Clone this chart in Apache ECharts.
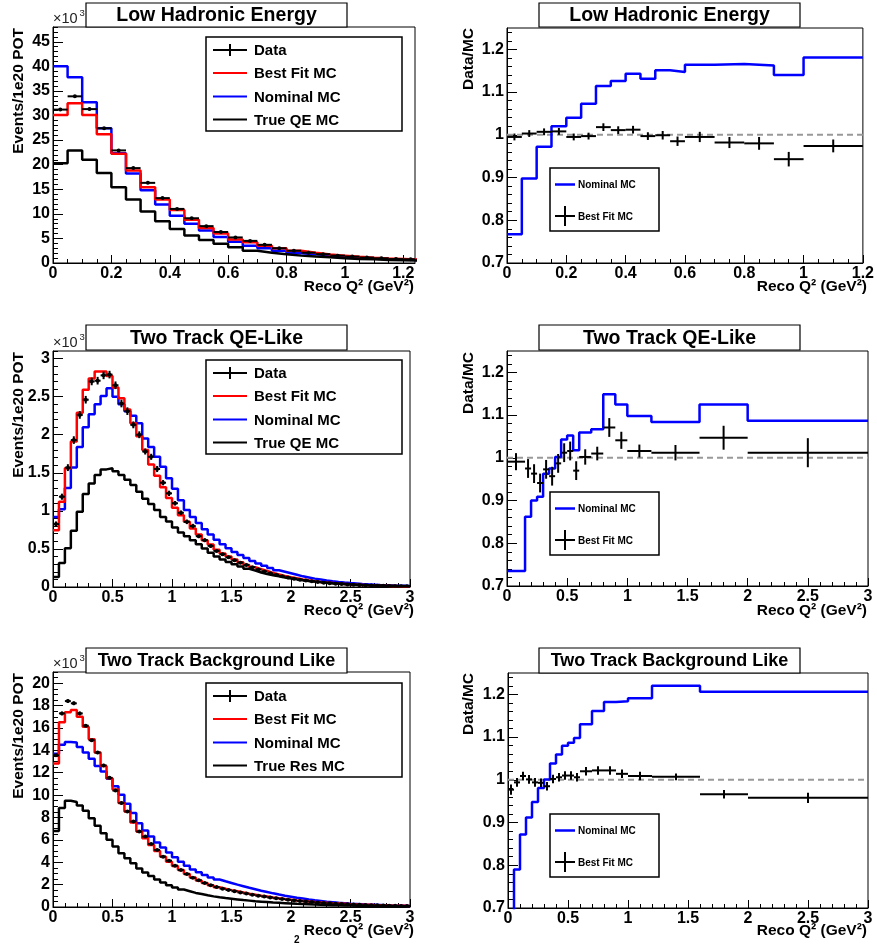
<!DOCTYPE html>
<html>
<head>
<meta charset="utf-8">
<script src="https://cdn.jsdelivr.net/npm/echarts@6/dist/echarts.min.js"></script>
<style>
  html, body { margin: 0; padding: 0; background: #fff; }
  #chart { width: 877px; height: 947px; }
</style>
</head>
<body>
<div id="chart"></div>
<script>
// ---------------- Low Hadronic Energy (x10^3 events / 1e20 POT) ----------------
const lowHadBinWidth = 0.05;
const lowHadData     = [31.2, 33.9, 31.3, 27.4, 22.9, 19.3, 16.3, 13.2, 11.0, 9.1, 7.5, 6.3, 5.2, 4.5, 3.7, 3.0, 2.5, 2.1, 1.8, 1.5, 1.3, 1.1, 0.95, 0.8, 0.75];
const lowHadDataErr  = [0.25, 0.26, 0.25, 0.23, 0.21, 0.19, 0.18, 0.16, 0.15, 0.13, 0.12, 0.11, 0.1, 0.09, 0.08, 0.07, 0.07, 0.06, 0.06, 0.05, 0.05, 0.05, 0.04, 0.04, 0.04];
const lowHadBestFit  = [30.1, 32.5, 30.1, 26.2, 22.2, 18.8, 15.4, 12.9, 10.8, 8.8, 7.1, 6.0, 4.8, 4.2, 3.5, 3.0, 2.5, 2.1, 1.75, 1.5, 1.25, 1.05, 0.9, 0.8, 0.7];
const lowHadNominal  = [40.0, 37.8, 32.7, 27.4, 22.3, 18.2, 14.8, 11.9, 9.6, 8.0, 6.6, 5.3, 4.3, 3.5, 3.0, 2.5, 2.0, 1.8, 1.5, 1.3, 1.1, 0.95, 0.8, 0.7, 0.6];
const lowHadTrueQE   = [20.3, 22.9, 21.0, 18.3, 15.4, 12.9, 10.5, 8.5, 6.9, 5.6, 4.7, 3.9, 3.2, 2.5, 2.1, 1.8, 1.5, 1.3, 1.15, 0.95, 0.8, 0.75, 0.6, 0.55, 0.5];

const lowHadRatioEdges   = [0, 0.05, 0.1, 0.15, 0.2, 0.25, 0.3, 0.35, 0.4, 0.45, 0.5, 0.55, 0.6, 0.7, 0.8, 0.9, 1.0, 1.2];
const lowHadRatioNominal = [0.767, 0.898, 0.972, 1.020, 1.040, 1.073, 1.114, 1.126, 1.143, 1.131, 1.151, 1.147, 1.164, 1.166, 1.162, 1.140, 1.181];
const lowHadRatioBestFit = [0.995, 1.003, 1.007, 1.008, 0.995, 0.997, 1.018, 1.011, 1.012, 0.997, 0.999, 0.985, 0.995, 0.982, 0.980, 0.943, 0.974];
const lowHadRatioErr     = [0.008, 0.008, 0.008, 0.008, 0.008, 0.008, 0.009, 0.009, 0.009, 0.009, 0.01, 0.011, 0.012, 0.013, 0.015, 0.017, 0.015];

// ---------------- Two Track QE-Like (x10^3 events / 1e20 POT) ----------------
const qeLikeBinWidth = 0.05;
const qeLikeData    = [0.826, 1.186, 1.568, 1.93, 2.26, 2.46, 2.70, 2.71, 2.78, 2.79, 2.65, 2.41, 2.31, 2.13, 2.00, 1.78, 1.71, 1.55, 1.37, 1.23,
                       1.10, 0.975, 0.856, 0.80, 0.667, 0.615, 0.54, 0.474, 0.43, 0.39, 0.35, 0.32, 0.29, 0.26, 0.23, 0.205, 0.18, 0.16, 0.14, 0.125,
                       0.11, 0.095, 0.085, 0.075, 0.065, 0.057, 0.05, 0.044, 0.038, 0.033, 0.029, 0.025, 0.022, 0.019, 0.017, 0.015, 0.013, 0.011, 0.010, 0.009];
const qeLikeDataErr = [0.035, 0.04, 0.045, 0.05, 0.05, 0.05, 0.05, 0.05, 0.05, 0.05, 0.05, 0.05, 0.05, 0.045, 0.045, 0.04, 0.04, 0.04, 0.035, 0.035,
                       0.03, 0.03, 0.03, 0.03, 0.025, 0.025, 0.025, 0.02, 0.02, 0.02, 0.02, 0.02, 0.015, 0.015, 0.015, 0.015, 0.012, 0.012, 0.012, 0.01,
                       0.01, 0.01, 0.01, 0.008, 0.008, 0.008, 0.007, 0.007, 0.006, 0.006, 0.006, 0.005, 0.005, 0.005, 0.004, 0.004, 0.004, 0.004, 0.003, 0.003];
const qeLikeBestFit = [0.747, 1.12, 1.56, 1.91, 2.29, 2.59, 2.74, 2.83, 2.83, 2.77, 2.62, 2.48, 2.33, 2.15, 1.98, 1.80, 1.61, 1.46, 1.31, 1.17,
                       1.04, 0.944, 0.856, 0.768, 0.69, 0.615, 0.558, 0.49, 0.44, 0.40, 0.36, 0.325, 0.29, 0.26, 0.235, 0.21, 0.185, 0.165, 0.145, 0.13,
                       0.115, 0.10, 0.088, 0.077, 0.067, 0.059, 0.052, 0.045, 0.04, 0.035, 0.031, 0.027, 0.023, 0.02, 0.018, 0.016, 0.014, 0.012, 0.011, 0.01];
const qeLikeNominal = [0.92, 1.02, 1.30, 1.57, 1.84, 2.10, 2.27, 2.40, 2.51, 2.61, 2.50, 2.40, 2.31, 2.25, 2.15, 1.95, 1.84, 1.71, 1.58, 1.43,
                       1.29, 1.14, 1.01, 0.92, 0.84, 0.76, 0.69, 0.62, 0.56, 0.51, 0.46, 0.42, 0.38, 0.34, 0.31, 0.28, 0.25, 0.22, 0.20, 0.18,
                       0.16, 0.14, 0.125, 0.11, 0.098, 0.086, 0.076, 0.067, 0.059, 0.052, 0.046, 0.04, 0.035, 0.031, 0.027, 0.024, 0.021, 0.018, 0.016, 0.014];
const qeLikeTrueQE  = [0.13, 0.316, 0.51, 0.74, 0.99, 1.22, 1.36, 1.47, 1.545, 1.56, 1.52, 1.47, 1.41, 1.34, 1.25, 1.16, 1.09, 1.01, 0.92, 0.86,
                       0.78, 0.716, 0.667, 0.615, 0.56, 0.505, 0.45, 0.40, 0.36, 0.33, 0.30, 0.27, 0.24, 0.215, 0.19, 0.17, 0.155, 0.14, 0.125, 0.112,
                       0.10, 0.09, 0.08, 0.072, 0.064, 0.057, 0.05, 0.045, 0.04, 0.035, 0.031, 0.027, 0.024, 0.021, 0.019, 0.017, 0.015, 0.013, 0.012, 0.011];

const qeLikeRatioEdges   = [0, 0.15, 0.2, 0.25, 0.3, 0.35, 0.4, 0.45, 0.5, 0.55, 0.6, 0.7, 0.8, 0.9, 1.0, 1.2, 1.6, 2.0, 3.0];
const qeLikeRatioNominal = [0.735, 0.862, 0.900, 0.909, 0.963, 0.975, 1.002, 1.043, 1.052, 1.018, 1.059, 1.067, 1.149, 1.125, 1.098, 1.084, 1.125, 1.087];
const qeLikeRatioBestFit = [0.991, 0.975, 0.963, 0.941, 0.973, 0.957, 0.987, 1.012, 1.016, 0.970, 1.002, 1.010, 1.071, 1.041, 1.016, 1.012, 1.047, 1.012];
const qeLikeRatioErr     = [0.02, 0.022, 0.022, 0.022, 0.022, 0.022, 0.022, 0.022, 0.022, 0.022, 0.018, 0.016, 0.022, 0.02, 0.015, 0.018, 0.028, 0.034];

// ---------------- Two Track Background Like (x10^3 events / 1e20 POT) ----------------
const bkgLikeBinWidth = 0.05;
const bkgLikeData    = [13.55, 17.3, 18.4, 18.2, 17.3, 16.2, 14.9, 13.8, 12.65, 11.54, 10.4, 9.29, 8.54, 7.64, 6.74, 6.29, 5.64, 5.10, 4.50, 4.14,
                        3.69, 3.30, 2.94, 2.61, 2.38, 2.14, 1.95, 1.78, 1.64, 1.52, 1.41, 1.30, 1.20, 1.10, 1.01, 0.93, 0.85, 0.78, 0.71, 0.65,
                        0.59, 0.54, 0.49, 0.44, 0.40, 0.36, 0.33, 0.30, 0.27, 0.245, 0.22, 0.20, 0.18, 0.165, 0.15, 0.135, 0.12, 0.11, 0.10, 0.09];
const bkgLikeDataErr = [0.14, 0.16, 0.16, 0.16, 0.16, 0.15, 0.15, 0.14, 0.14, 0.13, 0.12, 0.12, 0.11, 0.11, 0.1, 0.1, 0.09, 0.09, 0.08, 0.08,
                        0.07, 0.07, 0.07, 0.06, 0.06, 0.06, 0.05, 0.05, 0.05, 0.05, 0.04, 0.04, 0.04, 0.04, 0.04, 0.03, 0.03, 0.03, 0.03, 0.03,
                        0.03, 0.03, 0.02, 0.02, 0.02, 0.02, 0.02, 0.02, 0.02, 0.02, 0.02, 0.02, 0.02, 0.02, 0.02, 0.01, 0.01, 0.01, 0.01, 0.01];
const bkgLikeBestFit = [12.83, 16.5, 17.4, 17.6, 17.0, 16.1, 15.0, 13.8, 12.6, 11.5, 10.5, 9.29, 8.54, 7.55, 6.74, 6.14, 5.55, 5.0, 4.5, 4.05,
                        3.66, 3.30, 2.94, 2.64, 2.36, 2.14, 1.94, 1.76, 1.63, 1.51, 1.40, 1.29, 1.19, 1.10, 1.01, 0.93, 0.85, 0.78, 0.71, 0.65,
                        0.59, 0.54, 0.49, 0.45, 0.41, 0.37, 0.34, 0.31, 0.28, 0.25, 0.23, 0.21, 0.19, 0.17, 0.155, 0.14, 0.125, 0.115, 0.105, 0.095];
const bkgLikeNominal = [13.7, 14.5, 14.75, 14.7, 14.3, 13.8, 13.25, 12.6, 12.1, 11.45, 10.8, 10.04, 9.23, 8.39, 7.49, 6.83, 6.29, 5.76, 5.31, 4.86,
                        4.44, 4.05, 3.69, 3.36, 3.10, 2.86, 2.64, 2.46, 2.30, 2.15, 2.00, 1.86, 1.72, 1.59, 1.46, 1.34, 1.22, 1.11, 1.01, 0.92,
                        0.83, 0.75, 0.67, 0.60, 0.54, 0.48, 0.43, 0.38, 0.34, 0.30, 0.27, 0.24, 0.21, 0.19, 0.17, 0.15, 0.13, 0.12, 0.11, 0.10];
const bkgLikeTrueRes = [6.80, 8.84, 9.50, 9.38, 9.08, 8.60, 7.94, 7.25, 6.59, 6.00, 5.40, 4.80, 4.35, 3.90, 3.45, 3.09, 2.76, 2.46, 2.19, 1.95,
                        1.74, 1.56, 1.41, 1.26, 1.16, 1.05, 0.95, 0.87, 0.80, 0.74, 0.68, 0.62, 0.57, 0.52, 0.48, 0.44, 0.40, 0.37, 0.34, 0.31,
                        0.28, 0.26, 0.24, 0.22, 0.20, 0.18, 0.165, 0.15, 0.14, 0.13, 0.12, 0.11, 0.10, 0.09, 0.085, 0.08, 0.075, 0.07, 0.065, 0.06];

const bkgLikeRatioEdges   = [0, 0.05, 0.1, 0.15, 0.2, 0.25, 0.3, 0.35, 0.4, 0.45, 0.5, 0.55, 0.6, 0.7, 0.8, 0.9, 1.0, 1.2, 1.6, 2.0, 3.0];
const bkgLikeRatioNominal = [0.66, 0.79, 0.872, 0.912, 0.948, 0.981, 1.001, 1.038, 1.059, 1.080, 1.087, 1.098, 1.130, 1.161, 1.182, 1.184, 1.191, 1.220, 1.206, 1.206];
const bkgLikeRatioBestFit = [0.977, 0.994, 1.009, 1.001, 0.994, 0.993, 0.985, 1.002, 1.006, 1.010, 1.010, 1.006, 1.020, 1.022, 1.022, 1.014, 1.009, 1.007, 0.966, 0.958];
const bkgLikeRatioErr     = [0.012, 0.01, 0.01, 0.01, 0.01, 0.01, 0.01, 0.01, 0.01, 0.01, 0.01, 0.01, 0.01, 0.01, 0.01, 0.01, 0.01, 0.008, 0.01, 0.012];

// ---------------- Labels ----------------
const panelTitles = ['Low Hadronic Energy', 'Two Track QE-Like', 'Two Track Background Like'];
const panelTitleSizes = [19.5, 19.5, 18];
const legendLabels = [
  ['Data', 'Best Fit MC', 'Nominal MC', 'True QE MC'],
  ['Data', 'Best Fit MC', 'Nominal MC', 'True QE MC'],
  ['Data', 'Best Fit MC', 'Nominal MC', 'True Res MC']
];
const ratioLegendLabels = ['Nominal MC', 'Best Fit MC'];
const xTitle = 'Reco Q\u00b2 (GeV\u00b2)';
const yTitleEvents = 'Events/1e20 POT';
const yTitleRatio = 'Data/MC';

// ---------------- Helpers ----------------
const FONT = 'Liberation Sans';
const RED = '#ff0000', BLUE = '#0000ff', BLACK = '#000000';

function uniformEdges(width, n) {
  const e = [];
  for (let i = 0; i <= n; i++) e.push(+(i * width).toFixed(5));
  return e;
}
function tickList(lo, hi, step) {
  const out = [];
  const n = Math.round((hi - lo) / step);
  for (let i = 0; i <= n; i++) out.push(+(lo + i * step).toFixed(5));
  return out.filter(v => v <= hi + 1e-9);
}
// histogram outline: one point per bin start plus the last edge
function stepPoints(edges, vals) {
  const pts = vals.map((v, i) => [edges[i], v]);
  pts.push([edges[edges.length - 1], vals[vals.length - 1]]);
  return pts;
}
function errPoints(edges, vals, errs) {
  return vals.map((v, i) => [(edges[i] + edges[i + 1]) / 2, v, edges[i], edges[i + 1], errs[i]]);
}
function fmt(v) { return String(+v.toFixed(3)); }

function errorRenderer(dotR) {
  return function (params, api) {
    const xc = api.value(0), y = api.value(1), xl = api.value(2), xh = api.value(3), e = api.value(4);
    const pL = api.coord([xl, y]), pR = api.coord([xh, y]);
    const pT = api.coord([xc, y + e]), pB = api.coord([xc, y - e]);
    const pc = api.coord([xc, y]);
    const st = { stroke: BLACK, lineWidth: 2 };
    const children = [
      { type: 'line', shape: { x1: pL[0], y1: pL[1], x2: pR[0], y2: pR[1] }, style: st },
      { type: 'line', shape: { x1: pT[0], y1: pT[1], x2: pB[0], y2: pB[1] }, style: st }
    ];
    if (dotR) children.push({ type: 'circle', shape: { cx: pc[0], cy: pc[1], r: dotR }, style: { fill: BLACK } });
    return { type: 'group', children };
  };
}

// ---------------- Layout of the six frames ----------------
const grids = [
  { left: 53,  top: 27,  width: 362, height: 236 },
  { left: 507, top: 28,  width: 361, height: 235 },
  { left: 53,  top: 351, width: 357, height: 236 },
  { left: 507, top: 351, width: 361, height: 235 },
  { left: 53,  top: 672, width: 357, height: 235 },
  { left: 508, top: 673, width: 360, height: 235 }
];

// axis settings per frame: [min, max, major step, minor step]
const xSpec = [
  [0, 1.24, 0.2, 0.05], [0, 1.2, 0.2, 0.05],
  [0, 3, 0.5, 0.1], [0, 3, 0.5, 0.1],
  [0, 3, 0.5, 0.1], [0, 3, 0.5, 0.1]
];
const ySpec = [
  [0, 48, 5, 1], [0.7, 1.25, 0.1, 0.02],
  [0, 3.1, 0.5, 0.1], [0.7, 1.25, 0.1, 0.02],
  [0, 21, 2, 0.5], [0.7, 1.25, 0.1, 0.02]
];

const xAxes = [], yAxes = [];
grids.forEach((g, gi) => {
  const [xmin, xmax, xstep, xminor] = xSpec[gi];
  const [ymin, ymax, ystep, yminor] = ySpec[gi];
  const xMaj = tickList(xmin, xmax, xstep), yMaj = tickList(ymin, ymax, ystep);
  const labelStyle = { color: BLACK, fontFamily: FONT, fontWeight: 'bold', fontSize: 16, formatter: fmt };
  xAxes.push({
    type: 'value', gridIndex: gi, min: xmin, max: xmax, position: 'bottom',
    axisLine: { show: true, onZero: false, lineStyle: { color: BLACK, width: 1 } },
    axisTick: { show: true, inside: true, length: 8, customValues: xMaj, lineStyle: { color: BLACK, width: 1 } },
    axisLabel: Object.assign({ margin: 3, customValues: xMaj }, labelStyle),
    splitLine: { show: false }, minorTick: { show: false }
  });
  xAxes.push({
    type: 'value', gridIndex: gi, min: xmin, max: xmax, position: 'bottom',
    axisLine: { show: false, onZero: false }, axisLabel: { show: false }, splitLine: { show: false },
    axisTick: { show: true, inside: true, length: 4, customValues: tickList(xmin, xmax, xminor), lineStyle: { color: BLACK, width: 1 } }
  });
  yAxes.push({
    type: 'value', gridIndex: gi, min: ymin, max: ymax, position: 'left',
    axisLine: { show: true, onZero: false, lineStyle: { color: BLACK, width: 1 } },
    axisTick: { show: true, inside: true, length: 10, customValues: yMaj, lineStyle: { color: BLACK, width: 1 } },
    axisLabel: Object.assign({ margin: 3, customValues: yMaj }, labelStyle),
    splitLine: { show: false }, minorTick: { show: false }
  });
  yAxes.push({
    type: 'value', gridIndex: gi, min: ymin, max: ymax, position: 'left',
    axisLine: { show: false, onZero: false }, axisLabel: { show: false }, splitLine: { show: false },
    axisTick: { show: true, inside: true, length: 5, customValues: tickList(ymin, ymax, yminor), lineStyle: { color: BLACK, width: 1 } }
  });
});

// ---------------- Series ----------------
const series = [];
function hist(gi, edges, vals, color, z) {
  series.push({
    type: 'line', xAxisIndex: 2 * gi, yAxisIndex: 2 * gi, step: 'end', symbol: 'none', clip: true,
    data: stepPoints(edges, vals), lineStyle: { color, width: 2.5 }, z, silent: true
  });
}
function errs(gi, edges, vals, e, dotR) {
  series.push({
    type: 'custom', xAxisIndex: 2 * gi, yAxisIndex: 2 * gi, clip: true, z: 10, silent: true,
    encode: { x: 0, y: 1 }, renderItem: errorRenderer(dotR), data: errPoints(edges, vals, e)
  });
}
function unityLine(gi, xmax) {
  series.push({
    type: 'line', xAxisIndex: 2 * gi, yAxisIndex: 2 * gi, symbol: 'none', silent: true, z: 1,
    data: [[0, 1], [xmax, 1]], lineStyle: { color: '#999999', width: 2, type: [6, 4] }
  });
}

const lowHadEdges = uniformEdges(lowHadBinWidth, lowHadData.length);
const qeLikeEdges = uniformEdges(qeLikeBinWidth, qeLikeData.length);
const bkgLikeEdges = uniformEdges(bkgLikeBinWidth, bkgLikeData.length);

hist(0, lowHadEdges, lowHadNominal, BLUE, 3);
hist(0, lowHadEdges, lowHadBestFit, RED, 4);
hist(0, lowHadEdges, lowHadTrueQE, BLACK, 5);
errs(0, lowHadEdges, lowHadData, lowHadDataErr, 2);

unityLine(1, 1.2);
hist(1, lowHadRatioEdges, lowHadRatioNominal, BLUE, 3);
errs(1, lowHadRatioEdges, lowHadRatioBestFit, lowHadRatioErr, 0);

hist(2, qeLikeEdges, qeLikeNominal, BLUE, 3);
hist(2, qeLikeEdges, qeLikeBestFit, RED, 4);
hist(2, qeLikeEdges, qeLikeTrueQE, BLACK, 5);
errs(2, qeLikeEdges, qeLikeData, qeLikeDataErr, 2);

unityLine(3, 3);
hist(3, qeLikeRatioEdges, qeLikeRatioNominal, BLUE, 3);
errs(3, qeLikeRatioEdges, qeLikeRatioBestFit, qeLikeRatioErr, 0);

hist(4, bkgLikeEdges, bkgLikeNominal, BLUE, 3);
hist(4, bkgLikeEdges, bkgLikeBestFit, RED, 4);
hist(4, bkgLikeEdges, bkgLikeTrueRes, BLACK, 5);
errs(4, bkgLikeEdges, bkgLikeData, bkgLikeDataErr, 2);

unityLine(5, 3);
hist(5, bkgLikeRatioEdges, bkgLikeRatioNominal, BLUE, 3);
errs(5, bkgLikeRatioEdges, bkgLikeRatioBestFit, bkgLikeRatioErr, 0);

// ---------------- Decorations: title boxes, legends, axis titles ----------------
const graphics = [];
function txt(x, y, text, size, opts) {
  return Object.assign({
    type: 'text', x, y, z: 100,
    style: Object.assign({ text, fill: BLACK, fontFamily: FONT, fontWeight: 'bold', fontSize: size, align: 'left', verticalAlign: 'middle' }, (opts && opts.style) || {})
  }, (opts && opts.el) || {});
}
function line(x1, y1, x2, y2, color, w) {
  return { type: 'line', z: 100, shape: { x1, y1, x2, y2 }, style: { stroke: color, lineWidth: w } };
}
function rect(x, y, w, h, lw) {
  return { type: 'rect', z: 99, shape: { x, y, width: w, height: h }, style: { fill: '#fff', stroke: BLACK, lineWidth: lw } };
}

const rowTops = [3, 325, 648];
const rowTitleH = [24, 25, 25];
const rowFrameBottom = [263, 587, 907];
const rowFrameTop = [27, 351, 672];

rowTops.forEach((ty, r) => {
  // title boxes
  [[86, 261], [539, 261]].forEach(([bx, bw]) => {
    graphics.push(rect(bx, ty, bw, rowTitleH[r], 1.2));
    graphics.push(txt(bx + bw / 2, ty + rowTitleH[r] / 2 + 1, panelTitles[r], panelTitleSizes[r], { style: { align: 'center' } }));
  });
  // x-axis titles
  graphics.push(txt(414, rowFrameBottom[r] + 24, xTitle, 15.5, { style: { align: 'right' } }));
  graphics.push(txt(867, rowFrameBottom[r] + 24, xTitle, 15.5, { style: { align: 'right' } }));
  // y-axis titles (rotated, anchored at the top of the frame)
  graphics.push(txt(19, rowFrameTop[r] + 1, yTitleEvents, 15.5, { style: { align: 'right' }, el: { rotation: Math.PI / 2 } }));
  graphics.push(txt(469, rowFrameTop[r] + 1, yTitleRatio, 15.5, { style: { align: 'right' }, el: { rotation: Math.PI / 2 } }));
  // exponent label
  graphics.push(txt(53, rowFrameTop[r] - 1, '\u00d710', 14.5, { style: { fontWeight: 'normal', fill: '#222', verticalAlign: 'bottom' } }));
  graphics.push(txt(79.5, rowFrameTop[r] - 9, '3', 9.5, { style: { fontWeight: 'normal', fill: '#222', verticalAlign: 'bottom' } }));
});

// main legends
const legTop = [37, 360, 683];
legTop.forEach((ly, r) => {
  graphics.push(rect(206, ly, 196, 94, 1.5));
  const ys = [ly + 13, ly + 36, ly + 59.5, ly + 82.5];
  graphics.push(line(213, ys[0], 247, ys[0], BLACK, 2));
  graphics.push(line(230, ys[0] - 6, 230, ys[0] + 6, BLACK, 2));
  graphics.push(line(213, ys[1], 247, ys[1], RED, 2));
  graphics.push(line(213, ys[2], 247, ys[2], BLUE, 2));
  graphics.push(line(213, ys[3], 247, ys[3], BLACK, 2));
  legendLabels[r].forEach((lab, i) => graphics.push(txt(254, ys[i] + 1, lab, 15)));
});

// ratio legends
const ratioLegTop = [168, 492, 814];
ratioLegTop.forEach((ly) => {
  graphics.push(rect(550, ly, 109, 63, 1.5));
  const y1 = ly + 16.5, y2 = ly + 48;
  graphics.push(line(555, y1, 575, y1, BLUE, 2.5));
  graphics.push(line(555, y2, 575, y2, BLACK, 2));
  graphics.push(line(565, y2 - 10, 565, y2 + 10, BLACK, 2));
  graphics.push(txt(578, y1 + 1, ratioLegendLabels[0], 10));
  graphics.push(txt(578, y2 + 1, ratioLegendLabels[1], 10));
});

// stray superscript below the last row
graphics.push(txt(294, 940, '2', 10));

const chart = echarts.init(document.getElementById('chart'), null, { renderer: 'canvas' });
chart.setOption({
  animation: false,
  backgroundColor: '#fff',
  grid: grids.map(g => Object.assign({ show: true, borderColor: BLACK, borderWidth: 1, backgroundColor: 'transparent', containLabel: false }, g)),
  xAxis: xAxes,
  yAxis: yAxes,
  series,
  graphic: { elements: graphics }
});
</script>
</body>
</html>
